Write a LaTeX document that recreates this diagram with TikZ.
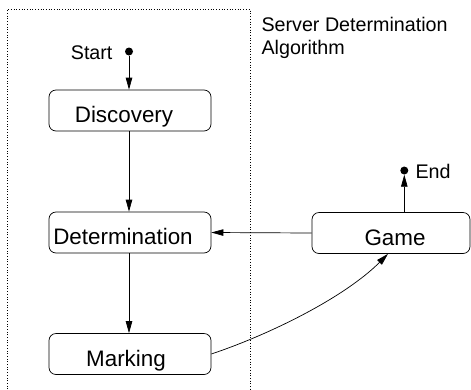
\documentclass[tikz,border=0pt]{standalone}
\usepackage{fontspec}
\setmainfont{Liberation Sans}
\usetikzlibrary{arrows.meta}
\begin{document}
\begin{tikzpicture}[x=1pt,y=-1pt,
  state/.style={draw, line width=0.7pt, rounded corners=7pt, inner sep=0pt,
    minimum height=41pt},
  boxtext/.style={font=\fontsize{22.4}{26}\selectfont, text height=24pt, text depth=0pt},
  small/.style={font=\fontsize{19.7}{23.3}\selectfont},
  flow/.style={line width=0.7pt, -{Triangle[length=12pt,width=6.5pt]}},
  dot/.style={circle, fill, inner sep=0pt, minimum size=8pt}]
\useasboundingbox (0,0) rectangle (471,389);

% dotted frame of the algorithm
\draw[dotted, line width=0.7pt] (7,389) -- (7,9.5) -- (250,9.5) -- (250,389);
\node[small, anchor=base west, align=left] (title) at (258,54.3)
  {Server Determination\\Algorithm};

% states
\node[state, minimum width=162pt,
  label={[boxtext, xshift=-6pt]center:Discovery}] (disc) at (130,110.5) {};
\node[state, minimum width=162pt,
  label={[boxtext, xshift=-7pt]center:Determination}] (det) at (130,232.5) {};
\node[state, minimum width=162pt,
  label={[boxtext, xshift=-4pt]center:Marking}] (mark) at (130,354) {};
\node[state, minimum width=158pt,
  label={[boxtext, xshift=4pt]center:Game}] (game) at (391,233) {};

% start and end points
\node[dot] (start) at (129,51.5) {};
\node[small, anchor=base east] (startlbl) at (116,59.5) {Start};
\node[dot] (end) at (404.3,170.5) {};
\node[small, anchor=base west] (endlbl) at (412,178) {End};

% transitions
\draw[flow] (start) -- (start |- disc.north);
\draw[flow] (start |- disc.south) -- (start |- det.north);
\draw[flow] (start |- det.south) -- (start |- mark.north);
\draw[flow] (game.west) -- (det.east);
\draw[flow] (end |- game.north) -- (end.south);
\draw[flow] (mark.east) .. controls (271,334) and (345,297) .. ([xshift=-3pt]game.south);
\end{tikzpicture}
\end{document}
